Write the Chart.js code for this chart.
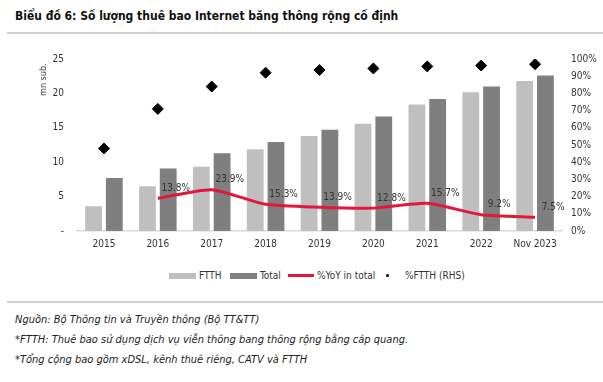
<!DOCTYPE html>
<html>
<head>
<meta charset="utf-8">
<script src="https://cdn.jsdelivr.net/npm/chart.js@4/dist/chart.umd.min.js"></script>
<style>
  html, body { margin:0; padding:0; background:#fff; }
  body { width:603px; height:382px; position:relative; overflow:hidden;
         font-family:"Liberation Sans Narrow","DejaVu Sans Condensed","Liberation Sans",sans-serif; color:#222; }
  #title { position:absolute; left:15px; top:9px; font-size:12px; font-weight:bold; color:#111; white-space:nowrap; }
  .rule { position:absolute; left:7px; right:0; height:2px; background:#cfcfcf; }
  #wrap { position:absolute; left:0; top:40px; width:603px; height:220px; }
  #legend { position:absolute; top:269px; left:0; width:603px; height:14px; font-size:10px; color:#333; }
  #legend span { position:absolute; white-space:nowrap; }
  .foot { position:absolute; left:15px; font-size:11px; font-style:italic; color:#222; white-space:nowrap; }
</style>
</head>
<body>
<div id="title">Biểu đồ 6: Số lượng thuê bao Internet băng thông rộng cố định</div>
<div class="rule" style="top:32px"></div>
<div id="wrap"><canvas id="c" width="603" height="220"></canvas></div>
<div id="legend">
  <span style="left:169px;top:4px;width:27px;height:6px;background:#bfbfbf"></span>
  <span style="left:199px;top:1px">FTTH</span>
  <span style="left:230px;top:4px;width:27px;height:6px;background:#7f7f7f"></span>
  <span style="left:260px;top:1px">Total</span>
  <span style="left:288px;top:5px;width:26px;height:3px;background:#e3173e"></span>
  <span style="left:317px;top:1px">%YoY in total</span>
  <span style="left:386px;top:5px;width:3px;height:3px;border-radius:2px;background:#000"></span>
  <span style="left:405px;top:1px">%FTTH (RHS)</span>
</div>
<div class="rule" style="top:301px"></div>
<div class="foot" style="top:313px">Nguồn: Bộ Thông tin và Truyền thông (Bộ TT&amp;TT)</div>
<div class="foot" style="top:333px">*FTTH: Thuê bao sử dụng dịch vụ viễn thông bang thông rộng bằng cáp quang.</div>
<div class="foot" style="top:353px">*Tổng cộng bao gồm xDSL, kênh thuê riêng, CATV và FTTH</div>
<script>
const categories = ['2015','2016','2017','2018','2019','2020','2021','2022','Nov 2023'];
const ftth  = [3.6, 6.5, 9.35, 11.9, 13.8, 15.6, 18.4, 20.15, 21.8];
const total = [7.7, 9.1, 11.3, 12.95, 14.7, 16.65, 19.2, 21.0, 22.6];
const yoyPct = [null, 19.0, 24.0, 15.5, 13.8, 13.3, 16.1, 9.5, 8.0];
const yoyLabels = ['', '13.8%', '23.9%', '15.3%', '13.9%', '12.8%', '15.7%', '9.2%', '7.5%'];
const ftthSharePct = [48, 71, 84, 92, 93.6, 94.5, 95.7, 96.2, 97];
const leftTicks = [0, 5, 10, 15, 20, 25];
const rightTicks = [0,10,20,30,40,50,60,70,80,90,100];

const FONT = '"Liberation Sans Narrow","DejaVu Sans Condensed","Liberation Sans",sans-serif';

const labelPlugin = {
  id: 'yoyLabels',
  afterDatasetsDraw(chart) {
    const ctx = chart.ctx;
    const meta = chart.getDatasetMeta(2);
    ctx.save();
    ctx.font = '10px ' + FONT;
    ctx.fillStyle = '#333';
    ctx.textAlign = 'center';
    ctx.textBaseline = 'middle';
    meta.data.forEach((pt, i) => {
      if (!yoyLabels[i] || yoyPct[i] == null) return;
      ctx.fillText(yoyLabels[i], pt.x + 18, pt.y - 10);
    });
    const ys = chart.scales.y;
    ctx.translate(44, ys.getPixelForValue(22));
    ctx.rotate(-Math.PI / 2);
    ctx.font = '9px ' + FONT;
    ctx.fillStyle = '#444';
    ctx.fillText('mn sub.', 0, 0);
    ctx.restore();
  }
};

new Chart(document.getElementById('c'), {
  data: {
    labels: categories,
    datasets: [
      { type:'bar', label:'FTTH', data: ftth, backgroundColor:'#bfbfbf', yAxisID:'y', order:2,
        categoryPercentage:0.77, barPercentage:0.81 },
      { type:'bar', label:'Total', data: total, backgroundColor:'#7f7f7f', yAxisID:'y', order:3,
        categoryPercentage:0.77, barPercentage:0.81 },
      { type:'line', label:'%YoY in total', data: yoyPct, borderColor:'#e3173e', borderWidth:3,
        pointRadius:0, tension:0.2, yAxisID:'y1', order:1, spanGaps:false },
      { type:'line', label:'%FTTH (RHS)', data: ftthSharePct, showLine:false, pointStyle:'rectRot',
        pointRadius:5.5, pointBackgroundColor:'#000', pointBorderColor:'#000', yAxisID:'y1', order:0 }
    ]
  },
  options: {
    responsive:false,
    animation:false,
    layout:{ padding:{ top:12, left:0, right:0, bottom:0 } },
    plugins:{ legend:{ display:false }, tooltip:{ enabled:false } },
    scales:{
      x:{
        grid:{ display:false, drawTicks:false },
        border:{ display:true, color:'#d9d9d9', width:1.5 },
        ticks:{ color:'#333', font:{ family:FONT, size:10 }, padding:7, maxRotation:0 },
        afterFit(s){ s.height = 29; }
      },
      y:{
        position:'left', min:0, max:25,
        afterBuildTicks(s){ s.ticks = leftTicks.map(v => ({ value:v })); },
        grid:{ display:false, drawTicks:false },
        border:{ display:false },
        ticks:{ color:'#333', font:{ family:FONT, size:10 }, padding:13,
                callback:v => v === 0 ? '-' : v },
        afterFit(s){ s.width = 77; }
      },
      y1:{
        position:'right', min:0, max:100,
        afterBuildTicks(s){ s.ticks = rightTicks.map(v => ({ value:v })); },
        grid:{ display:false, drawTicks:false },
        border:{ display:false },
        ticks:{ color:'#333', font:{ family:FONT, size:10 }, padding:9,
                callback:v => v + '%' },
        afterFit(s){ s.width = 41; }
      }
    }
  },
  plugins:[labelPlugin]
});
</script>
</body>
</html>
